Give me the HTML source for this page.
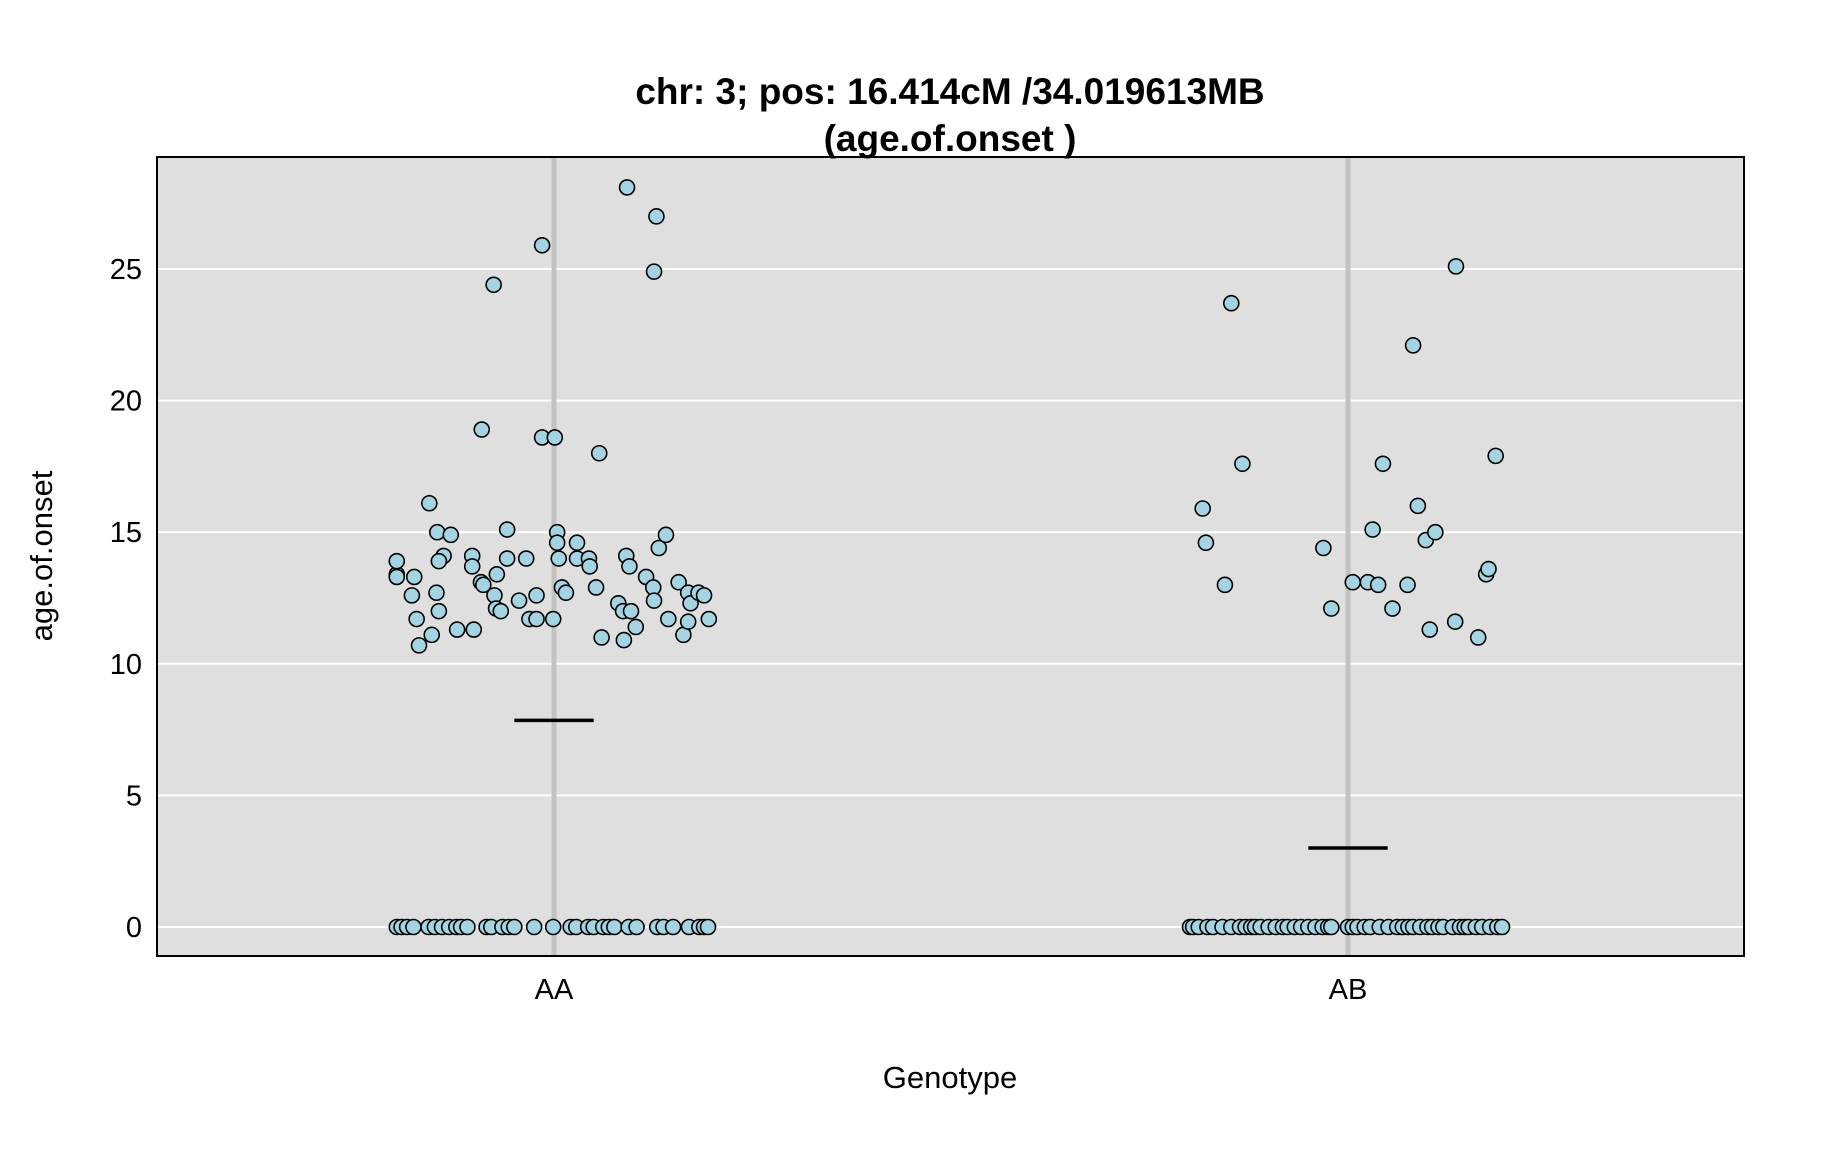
<!DOCTYPE html>
<html><head><meta charset="utf-8"><style>
body{margin:0;background:#fff;}
svg{display:block;font-family:"Liberation Sans",Arial,sans-serif;}
</style></head><body>
<svg id="chart" width="1824" height="1152" viewBox="0 0 1824 1152">
<rect x="157" y="157" width="1587" height="799" fill="#dfdfdf"/>
<g id="grid"></g>
<g id="marks"></g>
<rect x="157" y="157" width="1587" height="799" fill="none" stroke="#000" stroke-width="2"/>
<g id="axes"></g>
<text x="950" y="104" text-anchor="middle" font-size="37" font-weight="bold">chr: 3; pos: 16.414cM /34.019613MB</text>
<text x="950" y="151" text-anchor="middle" font-size="37" font-weight="bold">(age.of.onset )</text>
<text x="950" y="1088" text-anchor="middle" font-size="31">Genotype</text>
<text transform="translate(52,556) rotate(-90)" text-anchor="middle" font-size="31">age.of.onset</text>
</svg>
<script>
const categories = ["AA","AB"];
const yTicks = [0,5,10,15,20,25];
const means = [7.85, 3.0];
const aaValues = [13.4,13.9,13.3,13.3,12.6,11.7,10.7,16.1,15.0,14.9,14.1,13.9,12.7,12.0,11.1,11.3,11.3,14.1,13.7,13.1,13.0,18.9,24.4,13.4,12.6,12.1,12.0,15.1,14.0,12.4,14.0,11.7,11.7,12.6,25.9,18.6,18.6,11.7,15.0,14.6,14.0,12.9,12.7,14.6,14.0,14.0,13.7,12.9,18.0,11.0,12.3,10.9,12.0,14.1,13.7,12.0,11.4,28.1,13.3,12.9,24.9,27.0,12.4,14.4,14.9,11.7,13.1,11.1,12.7,12.3,11.6,12.7,12.6,11.7,
0,0,0,0,0,0,0,0,0,0,0,0,0,0,0,0,0,0,0,0,0,0,0,0,0,0,0,0,0,0,0,0,0,0];
const aaJitter = [-0.198,-0.198,-0.198,-0.176,-0.179,-0.173,-0.170,-0.157,-0.147,-0.130,-0.139,-0.145,-0.148,-0.145,-0.154,-0.122,-0.101,-0.103,-0.103,-0.092,-0.089,-0.091,-0.076,-0.072,-0.075,-0.073,-0.067,-0.059,-0.059,-0.044,-0.035,-0.031,-0.022,-0.022,-0.015,-0.015,0.001,-0.001,0.004,0.004,0.006,0.010,0.015,0.029,0.029,0.044,0.045,0.053,0.057,0.060,0.081,0.088,0.087,0.091,0.095,0.097,0.103,0.092,0.116,0.125,0.126,0.129,0.126,0.132,0.141,0.144,0.157,0.163,0.169,0.172,0.169,0.182,0.189,0.195,
-0.198,-0.192,-0.185,-0.177,-0.158,-0.150,-0.141,-0.132,-0.123,-0.117,-0.109,-0.085,-0.079,-0.065,-0.057,-0.050,-0.025,-0.001,0.021,0.028,0.043,0.050,0.062,0.069,0.076,0.094,0.104,0.130,0.138,0.150,0.170,0.183,0.189,0.194];
const abValues = [15.9,14.6,13.0,23.7,17.6,14.4,12.1,13.1,13.1,15.1,13.0,17.6,12.1,13.0,22.1,16.0,14.7,11.3,15.0,11.6,25.1,11.0,13.4,13.6,17.9,
0,0,0,0,0,0,0,0,0,0,0,0,0,0,0,0,0,0,0,0,0,0,0,0,0,0,0,0,0,0,0,0,0,0,0,0,0,0,0,0,0,0,0,0,0,0,0,0];
const abJitter = [-0.183,-0.179,-0.155,-0.147,-0.133,-0.031,-0.021,0.006,0.025,0.031,0.038,0.044,0.056,0.075,0.082,0.088,0.098,0.103,0.110,0.135,0.136,0.164,0.174,0.177,0.186,
-0.199,-0.195,-0.188,-0.177,-0.170,-0.158,-0.147,-0.136,-0.129,-0.122,-0.117,-0.110,-0.100,-0.091,-0.082,-0.076,-0.067,-0.059,-0.050,-0.041,-0.032,-0.025,-0.021,0,0.006,0.012,0.021,0.028,0.040,0.051,0.062,0.069,0.076,0.082,0.091,0.100,0.106,0.114,0.120,0.132,0.141,0.147,0.152,0.161,0.169,0.179,0.188,0.194];

const NS="http://www.w3.org/2000/svg";
const plotL=157, plotR=1744, plotT=157, plotB=956;
function xScale(c){ return 554 + c*(1348-554); }
function yScale(v){ return 927 - v*(927-269)/25; }
function mk(tag, attrs, parent){
  const e=document.createElementNS(NS,tag);
  for(const k in attrs) e.setAttribute(k, attrs[k]);
  parent.appendChild(e); return e;
}
const grid=document.getElementById('grid'), marks=document.getElementById('marks'), axes=document.getElementById('axes');
yTicks.forEach(t=>{
  const l=mk('line',{x1:plotL,x2:plotR,y1:yScale(t),y2:yScale(t),stroke:'#fff','stroke-width':2},grid);
  
  
  const tx=mk('text',{x:142,y:yScale(t)+10,'text-anchor':'end','font-size':29},axes);
  tx.textContent=t;
  
  
});
categories.forEach((c,i)=>{
  const l=mk('line',{x1:xScale(i),x2:xScale(i),y1:plotT,y2:plotB,stroke:'#c2c2c2','stroke-width':5},grid);
  
  
  const tx=mk('text',{x:xScale(i),y:999,'text-anchor':'middle','font-size':29},axes);
  tx.textContent=c;
  
  
});
const groups=[[aaValues,aaJitter],[abValues,abJitter]];
groups.forEach((g,i)=>{
  g[0].forEach((v,k)=>{
    const p=mk('circle',{cx:xScale(i+g[1][k]),cy:yScale(v),r:7.5,fill:'#a4d3e2',stroke:'#000','stroke-width':1.6},marks);
    
    
  });
});
means.forEach((m,i)=>{
  const l=mk('line',{x1:xScale(i-0.05),x2:xScale(i+0.05),y1:yScale(m),y2:yScale(m),stroke:'#000','stroke-width':3.5},marks);
  
  
});
</script>
</body></html>
